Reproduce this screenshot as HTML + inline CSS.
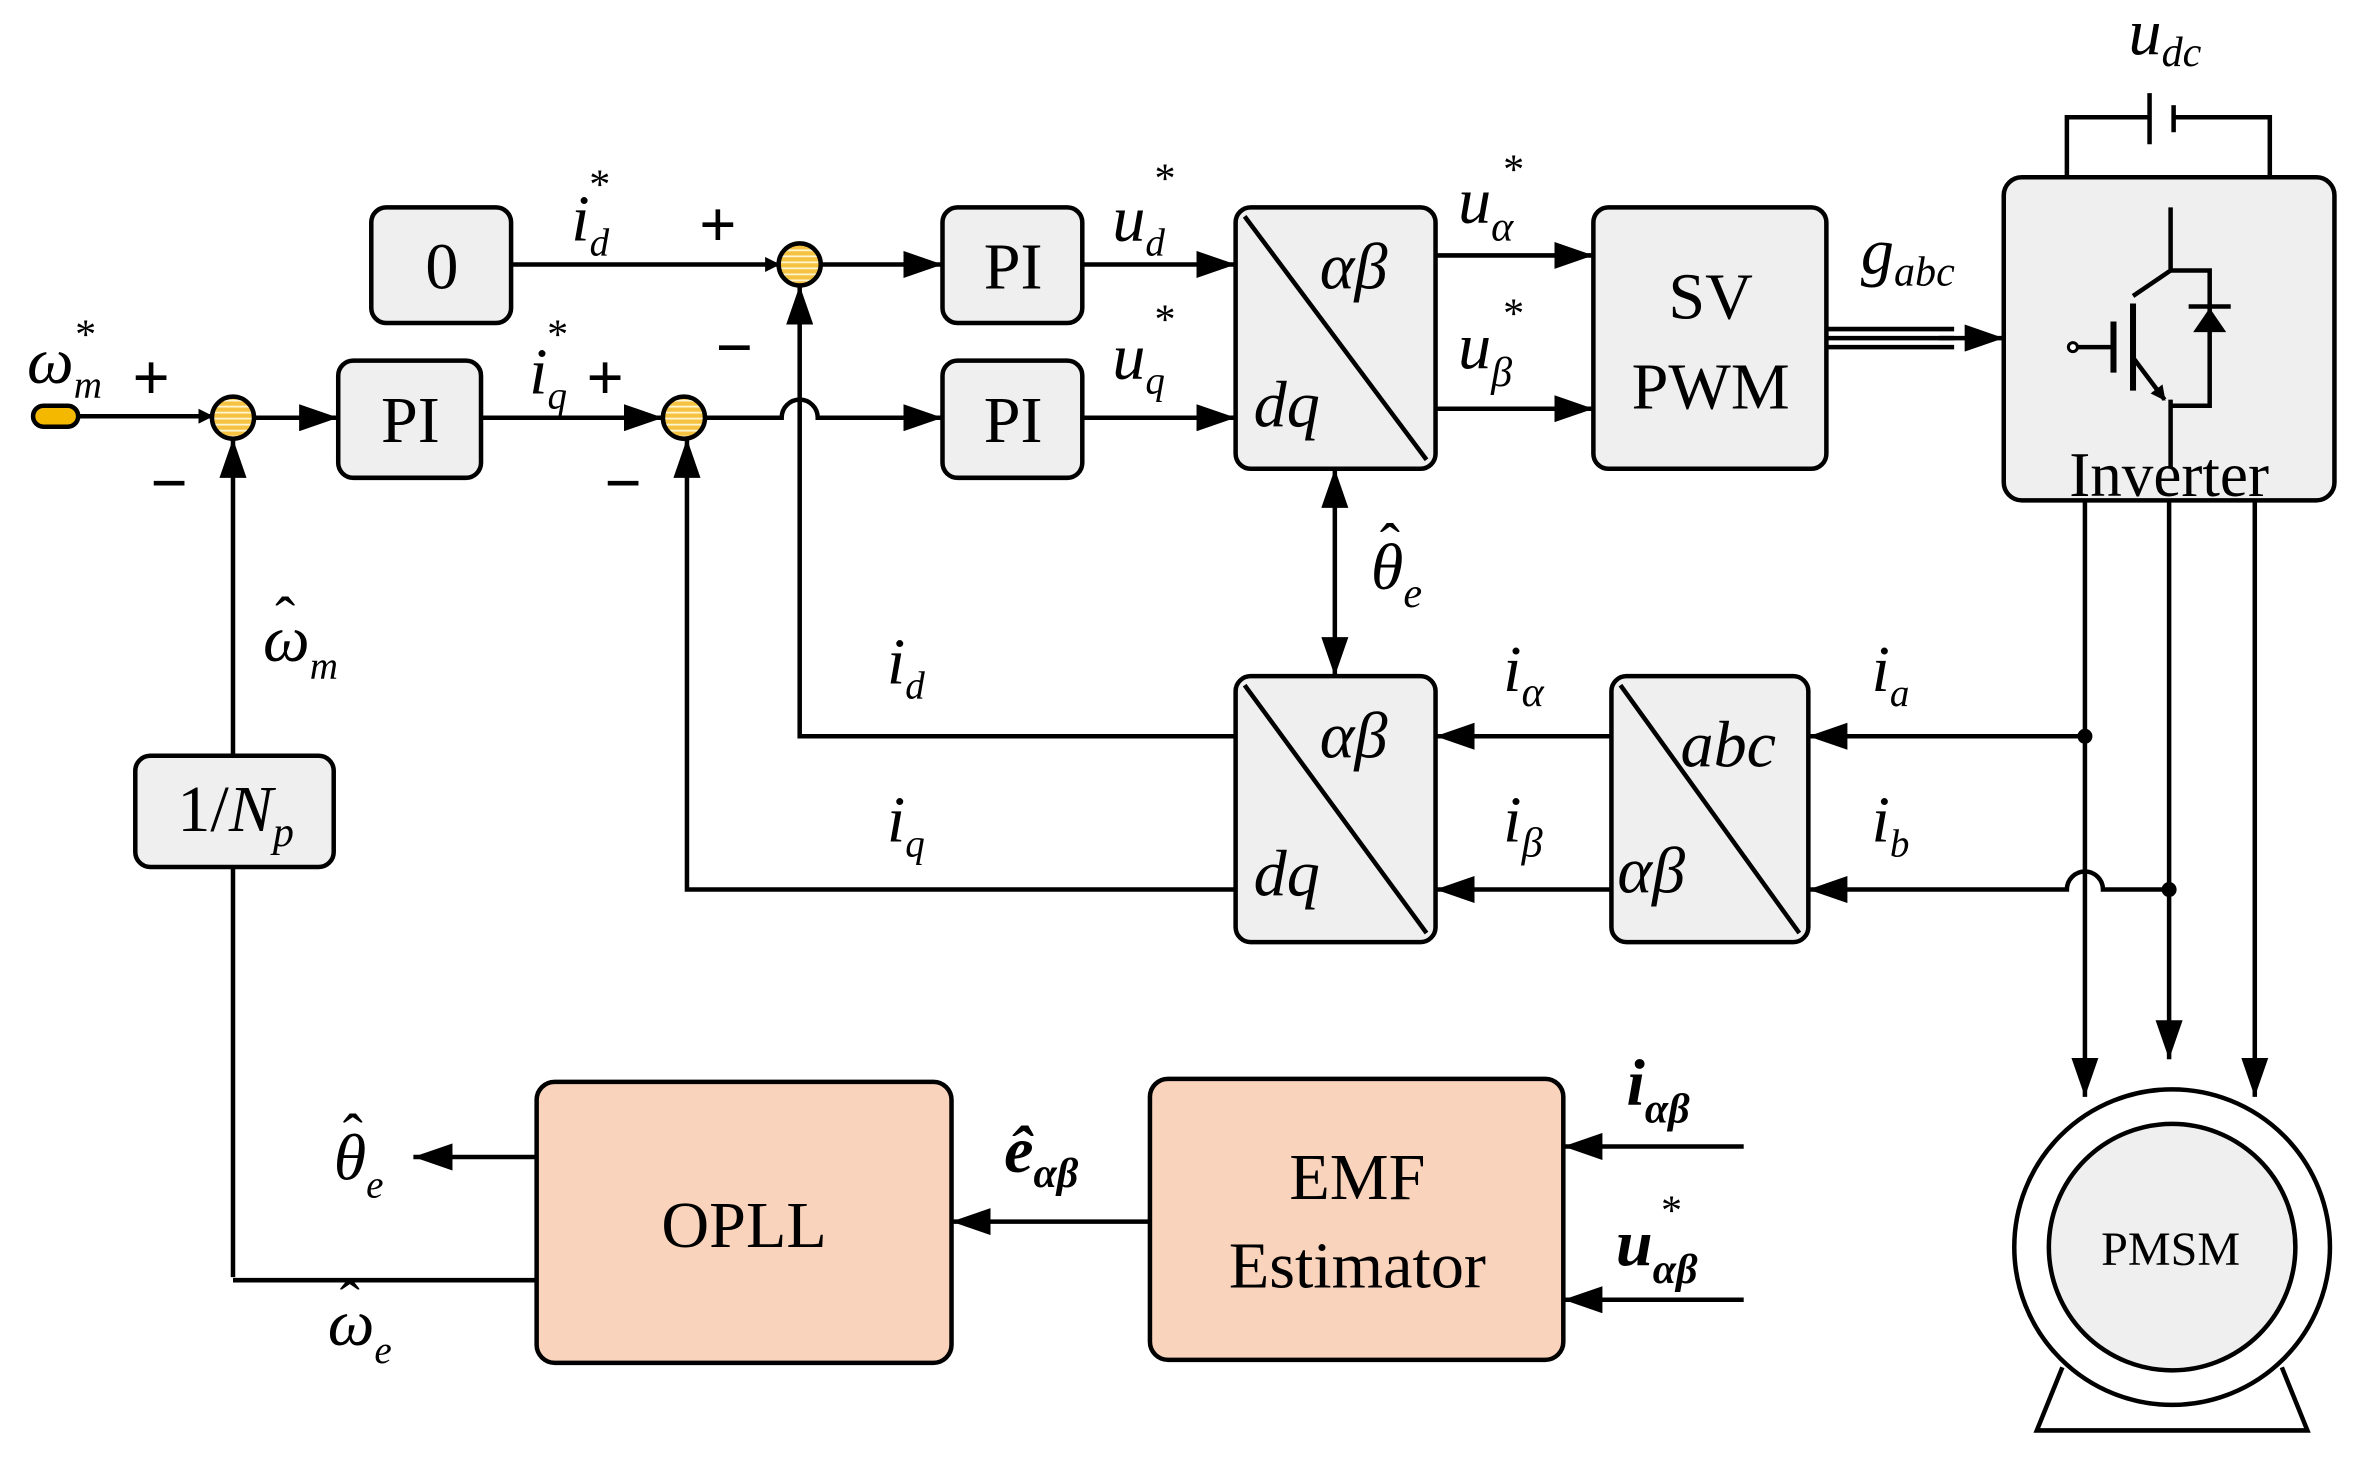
<!DOCTYPE html>
<html><head><meta charset="utf-8"><style>
html,body{margin:0;padding:0;background:#fff}
svg{display:block}
text{font-family:"Liberation Serif",serif;fill:#000}
.i{font-style:italic}
</style></head><body>
<svg width="2357" height="1465" viewBox="0 0 1568 975" preserveAspectRatio="none" xmlns="http://www.w3.org/2000/svg">
<defs>
<marker id="a" markerWidth="10" markerHeight="10" refX="9" refY="5" orient="auto" markerUnits="userSpaceOnUse" viewBox="0 0 10 10"><path d="M0,0 L10,5 L0,10 z" fill="#000"/></marker>
<marker id="A" markerWidth="26" markerHeight="18" refX="26" refY="9" orient="auto-start-reverse" markerUnits="userSpaceOnUse"><path d="M0,0 L26,9 L0,18 z" fill="#000"/></marker>
<pattern id="st" width="4" height="4" patternUnits="userSpaceOnUse"><rect width="4" height="4" fill="#f5c242"/><rect y="2" width="4" height="1.2" fill="#fff5d0"/></pattern>
</defs>
<g stroke="#000" stroke-width="3" fill="none">
<rect x="247" y="138" width="93" height="77" rx="10" fill="#efefef"/>
<rect x="627" y="138" width="93" height="77" rx="10" fill="#efefef"/>
<rect x="627" y="240" width="93" height="78" rx="10" fill="#efefef"/>
<rect x="225" y="240" width="95" height="78" rx="10" fill="#efefef"/>
<rect x="822" y="138" width="133" height="174" rx="10" fill="#efefef"/>
<line x1="828" y1="144" x2="949" y2="306"/>
<rect x="1060" y="138" width="155" height="174" rx="10" fill="#efefef"/>
<rect x="1333" y="118" width="220" height="215" rx="12" fill="#efefef"/>
<rect x="822" y="450" width="133" height="177" rx="10" fill="#efefef"/>
<line x1="828" y1="456" x2="949" y2="621"/>
<rect x="1072" y="450" width="131" height="177" rx="10" fill="#efefef"/>
<line x1="1078" y1="456" x2="1197" y2="621"/>
<rect x="90" y="503" width="132" height="74" rx="10" fill="#efefef"/>
<rect x="357" y="720" width="276" height="187" rx="12" fill="#f9d3bb"/>
<rect x="765" y="718" width="275" height="187" rx="12" fill="#f9d3bb"/>
<circle cx="155" cy="278" r="14" fill="url(#st)"/>
<circle cx="455" cy="278" r="14" fill="url(#st)"/>
<circle cx="532" cy="176" r="14" fill="url(#st)"/>
<rect x="22" y="270" width="30" height="14" rx="7" fill="#f5b800"/>
<line x1="52" y1="277" x2="141" y2="277" marker-end="url(#a)"/>
<line x1="169" y1="278" x2="225" y2="278" marker-end="url(#A)"/>
<line x1="320" y1="278" x2="441" y2="278" marker-end="url(#A)"/>
<path d="M469,278 H520 A12,12 0 0 1 544,278 H627" marker-end="url(#A)"/>
<line x1="340" y1="176" x2="518" y2="176" marker-end="url(#a)"/>
<line x1="546" y1="176" x2="627" y2="176" marker-end="url(#A)"/>
<line x1="720" y1="176" x2="822" y2="176" marker-end="url(#A)"/>
<line x1="720" y1="278" x2="822" y2="278" marker-end="url(#A)"/>
<line x1="955" y1="170" x2="1060" y2="170" marker-end="url(#A)"/>
<line x1="955" y1="272" x2="1060" y2="272" marker-end="url(#A)"/>
<line x1="1215" y1="219" x2="1300" y2="219"/>
<line x1="1215" y1="225" x2="1300" y2="225"/>
<line x1="1215" y1="231" x2="1300" y2="231"/>
<line x1="1290" y1="225" x2="1333" y2="225" marker-end="url(#A)"/>
<line x1="888" y1="312" x2="888" y2="450" marker-start="url(#A)" marker-end="url(#A)"/>
<polyline points="822,490 532,490 532,190" marker-end="url(#A)"/>
<polyline points="822,592 457,592 457,292" marker-end="url(#A)"/>
<line x1="1072" y1="490" x2="955" y2="490" marker-end="url(#A)"/>
<line x1="1072" y1="592" x2="955" y2="592" marker-end="url(#A)"/>
<line x1="1387" y1="490" x2="1203" y2="490" marker-end="url(#A)"/>
<path d="M1443,592 H1399 A12,12 0 0 0 1375,592 H1203" marker-end="url(#A)"/>
<line x1="1387" y1="333" x2="1387" y2="730" marker-end="url(#A)"/>
<line x1="1443" y1="333" x2="1443" y2="705" marker-end="url(#A)"/>
<line x1="1500" y1="333" x2="1500" y2="730" marker-end="url(#A)"/>
<polyline points="1375,118 1375,78 1430,78"/>
<line x1="1430" y1="62" x2="1430" y2="96"/>
<line x1="1446" y1="70" x2="1446" y2="88"/>
<polyline points="1446,78 1510,78 1510,118"/>
<circle cx="1445" cy="830" r="105" fill="#fff"/>
<circle cx="1445" cy="830" r="82" fill="#efefef"/>
<polyline points="1372,910 1355,952 1535,952 1518,910"/>
<polyline points="155,850 155,577"/>
<line x1="155" y1="503" x2="155" y2="292" marker-end="url(#A)"/>
<line x1="357" y1="852" x2="155" y2="852"/>
<line x1="357" y1="770" x2="275" y2="770" marker-end="url(#A)"/>
<line x1="765" y1="813" x2="633" y2="813" marker-end="url(#A)"/>
<line x1="1160" y1="763" x2="1040" y2="763" marker-end="url(#A)"/>
<line x1="1160" y1="865" x2="1040" y2="865" marker-end="url(#A)"/>
<polyline points="1444,138 1444,180 1419,197"/>
<line x1="1419" y1="202" x2="1419" y2="260" stroke-width="4"/>
<line x1="1406" y1="214" x2="1406" y2="248" stroke-width="4"/>
<line x1="1382" y1="231" x2="1406" y2="231"/>
<circle cx="1379" cy="231" r="3" fill="#fff" stroke-width="2"/>
<line x1="1419" y1="238" x2="1440" y2="266" marker-end="url(#a)"/>
<polyline points="1444,266 1444,312"/>
<polyline points="1444,180 1470,180 1470,270 1444,270"/>
<line x1="1456" y1="204" x2="1484" y2="204"/>
</g>
<path d="M1470,205 L1459,221 L1481,221 z" fill="#000"/>
<circle cx="1387" cy="490" r="5" fill="#000"/>
<circle cx="1443" cy="592" r="5" fill="#000"/>
<g font-size="44">
<text x="294" y="192" text-anchor="middle">0</text>
<text x="674" y="192" text-anchor="middle">PI</text>
<text x="674" y="294" text-anchor="middle">PI</text>
<text x="273" y="294" text-anchor="middle">PI</text>
<text x="1138" y="212" text-anchor="middle">SV</text>
<text x="1138" y="272" text-anchor="middle">PWM</text>
<text x="1443" y="330" text-anchor="middle" font-size="42">Inverter</text>
<text x="495" y="830" text-anchor="middle">OPLL</text>
<text x="903" y="798" text-anchor="middle">EMF</text>
<text x="903" y="857" text-anchor="middle">Estimator</text>
<text x="1444" y="842" text-anchor="middle" font-size="32">PMSM</text>
<text x="118" y="553">1/<tspan class="i">N</tspan><tspan class="i" font-size="28" dy="10">p</tspan></text>
<text class="i" x="878" y="192">αβ</text>
<text class="i" x="834" y="284">dq</text>
<text class="i" x="878" y="504">αβ</text>
<text class="i" x="834" y="596">dq</text>
<text class="i" x="1118" y="510">abc</text>
<text class="i" x="1076" y="594">αβ</text>
<text class="i" x="18" y="255">ω<tspan font-size="26" dy="10">m</tspan></text>
<text x="50" y="232" font-size="28">*</text>
<text class="i" x="380" y="160">i<tspan font-size="26" dy="10">d</tspan></text>
<text x="392" y="132" font-size="28">*</text>
<text class="i" x="352" y="262">i<tspan font-size="26" dy="10">q</tspan></text>
<text x="364" y="232" font-size="28">*</text>
<text class="i" x="740" y="160">u<tspan font-size="26" dy="10">d</tspan></text>
<text x="768" y="128" font-size="28">*</text>
<text class="i" x="740" y="252">u<tspan font-size="26" dy="10">q</tspan></text>
<text x="768" y="222" font-size="28">*</text>
<text class="i" x="970" y="148">u<tspan font-size="28" dy="12">α</tspan></text>
<text x="1000" y="122" font-size="28">*</text>
<text class="i" x="970" y="245">u<tspan font-size="28" dy="12">β</tspan></text>
<text x="1000" y="218" font-size="28">*</text>
<text class="i" x="1238" y="182">g<tspan font-size="28" dy="8">abc</tspan></text>
<text class="i" x="1416" y="36">u<tspan font-size="28" dy="8">dc</tspan></text>
<text class="i" x="912" y="392">θ<tspan font-size="28" dy="12">e</tspan></text>
<text x="918" y="376" font-size="40">ˆ</text>
<text class="i" x="590" y="455">i<tspan font-size="26" dy="10">d</tspan></text>
<text class="i" x="590" y="560">i<tspan font-size="26" dy="10">q</tspan></text>
<text class="i" x="1000" y="460">i<tspan font-size="28" dy="10">α</tspan></text>
<text class="i" x="1000" y="560">i<tspan font-size="28" dy="10">β</tspan></text>
<text class="i" x="1245" y="460">i<tspan font-size="26" dy="10">a</tspan></text>
<text class="i" x="1245" y="560">i<tspan font-size="26" dy="10">b</tspan></text>
<text class="i" x="175" y="440">ω<tspan font-size="26" dy="12">m</tspan></text>
<text x="183" y="425" font-size="40">ˆ</text>
<text class="i" x="222" y="785">θ<tspan font-size="26" dy="12">e</tspan></text>
<text x="228" y="769" font-size="40">ˆ</text>
<text class="i" x="218" y="895">ω<tspan font-size="26" dy="12">e</tspan></text>
<text x="226" y="880" font-size="40">ˆ</text>
<text class="i" font-weight="bold" x="668" y="780">ê<tspan font-size="28" dy="10">αβ</tspan></text>
<text class="i" font-weight="bold" x="1082" y="735">i<tspan font-size="28" dy="12">αβ</tspan></text>
<text class="i" font-weight="bold" x="1075" y="842">u<tspan font-size="28" dy="12">αβ</tspan></text>
<text x="1105" y="815" font-size="28">*</text>
</g>
<g font-size="44" font-weight="bold" font-family="Liberation Sans">
<text x="88" y="266">+</text><text x="100" y="336">−</text>
<text x="390" y="266">+</text><text x="402" y="336">−</text>
<text x="465" y="164">+</text><text x="476" y="246">−</text>
</g>
</svg>
</body></html>
